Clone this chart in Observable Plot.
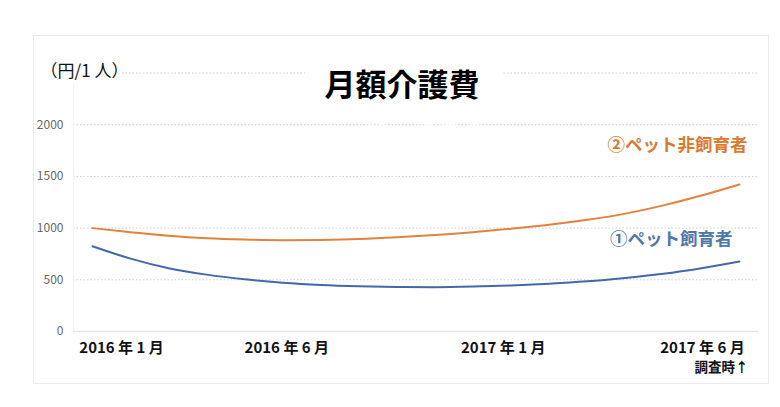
<!DOCTYPE html>
<html>
<head>
<meta charset="utf-8">
<script src="https://cdn.jsdelivr.net/npm/d3@7"></script>
<script src="https://cdn.jsdelivr.net/npm/@observablehq/plot@0.6"></script>
<style>
  html, body { margin: 0; padding: 0; background: #fff; }
  #wrap { position: relative; width: 780px; height: 407px; }
  #box { position: absolute; left: 33px; top: 35px; width: 734px; height: 347px; border: 1px solid #ebebeb; }
  #chart { position: absolute; left: 0; top: 0; }
  svg { font-family: "Noto Sans CJK JP", "Noto Sans", sans-serif; }
</style>
</head>
<body>
<div id="wrap"><div id="box"></div><div id="chart"></div></div>
<script>
// Months since 2016-01 (0 = 2016年1月 ... 17 = 2017年6月)
const months = [0,1,2,3,4,5,6,7,8,9,10,11,12,13,14,15,16,17];
// ① ペット飼育者 (円/1人)
const petOwners = [825,705,612,550,505,472,450,437,430,428,434,446,462,485,518,558,612,677];
// ② ペット非飼育者 (円/1人)
const nonOwners = [1000,960,926,902,889,883,886,895,912,934,960,994,1032,1080,1140,1220,1315,1422];
const seriesNames = ["①ペット飼育者", "②ペット非飼育者"];
const yTicks = [0, 500, 1000, 1500, 2000];
const gridTicks = [500, 1000, 1500, 2000, 2500];
const xTickMonths = [0, 5, 12, 17];
const xTickLabels = ["2016 年 1 月", "2016 年 6 月", "2017 年 1 月", "2017 年 6 月"];
const titleText = "月額介護費";
const unitText = "（円/1 人）";
const noteText = "調査時↑";

const rows = [];
months.forEach((m, i) => {
  rows.push({month: m, value: petOwners[i], series: seriesNames[0]});
  rows.push({month: m, value: nonOwners[i], series: seriesNames[1]});
});
const lineColors = {[seriesNames[0]]: "#4169a9", [seriesNames[1]]: "#e2823d"};
const textColors = {[seriesNames[0]]: "#4e77aa", [seriesNames[1]]: "#db7a2f"};
const labelDx = [29, 4, -46, -37];
const lastRows = rows.filter(d => d.month === months[months.length - 1]);

const xLabelMarks = xTickMonths.map((m, i) =>
  Plot.text([{month: m, label: xTickLabels[i]}], {
    x: "month", text: "label", frameAnchor: "bottom", dy: 21, dx: labelDx[i],
    fontSize: 15, fontWeight: "bold", fill: "#111", lineHeight: 0.9
  })
);

const chart = Plot.plot({
  width: 780,
  height: 407,
  marginLeft: 73,
  marginRight: 22,
  marginTop: 72.5,
  marginBottom: 76,
  x: {domain: [-0.5, 17.5], axis: null},
  y: {domain: [0, 2500], axis: null},
  marks: [
    Plot.gridY(gridTicks, {stroke: "#cfcfcf", strokeOpacity: 1, strokeDasharray: "1.5,2", strokeWidth: 1}),
    Plot.ruleX([-0.5], {stroke: "#f2f2f2", strokeWidth: 1}),
    Plot.ruleY([0], {stroke: "#e6e6e6", strokeWidth: 1.5}),
    Plot.axisY(yTicks, {tickSize: 0, tickPadding: 10, fontSize: 12, fill: "#666", label: null, tickFormat: d => String(d)}),
    Plot.line(rows, {x: "month", y: "value", z: "series", stroke: d => lineColors[d.series], strokeWidth: 2, curve: "monotone-x"}),
    Plot.text(lastRows.filter(d => d.series === seriesNames[1]), {
      x: "month", y: "value", text: "series", textAnchor: "end", dx: 8, dy: -39,
      fontSize: 17.5, fontWeight: "bold", fill: d => textColors[d.series]
    }),
    Plot.text(lastRows.filter(d => d.series === seriesNames[0]), {
      x: "month", y: "value", text: "series", textAnchor: "end", dx: -7, dy: -22,
      fontSize: 17.5, fontWeight: "bold", fill: d => textColors[d.series]
    }),
    ...xLabelMarks,
    Plot.text([noteText], {
      x: xTickMonths[3], frameAnchor: "bottom", dy: 40, dx: -18, fontSize: 13.5, fontWeight: "bold", fill: "#111", lineHeight: 0.9
    }),
    Plot.text([titleText], {
      frameAnchor: "top", dx: -14, dy: 1, fontSize: 31, fontWeight: "bold", fill: "#000",
      stroke: "white", strokeWidth: 50, paintOrder: "stroke"
    }),
    Plot.text([unitText], {
      frameAnchor: "top-left", textAnchor: "start", dx: -33, dy: -8, fontSize: 17, fill: "#111",
      stroke: "white", strokeWidth: 10, paintOrder: "stroke"
    })
  ]
});
chart.style.background = "transparent";
document.getElementById("chart").appendChild(chart);
</script>
</body>
</html>
